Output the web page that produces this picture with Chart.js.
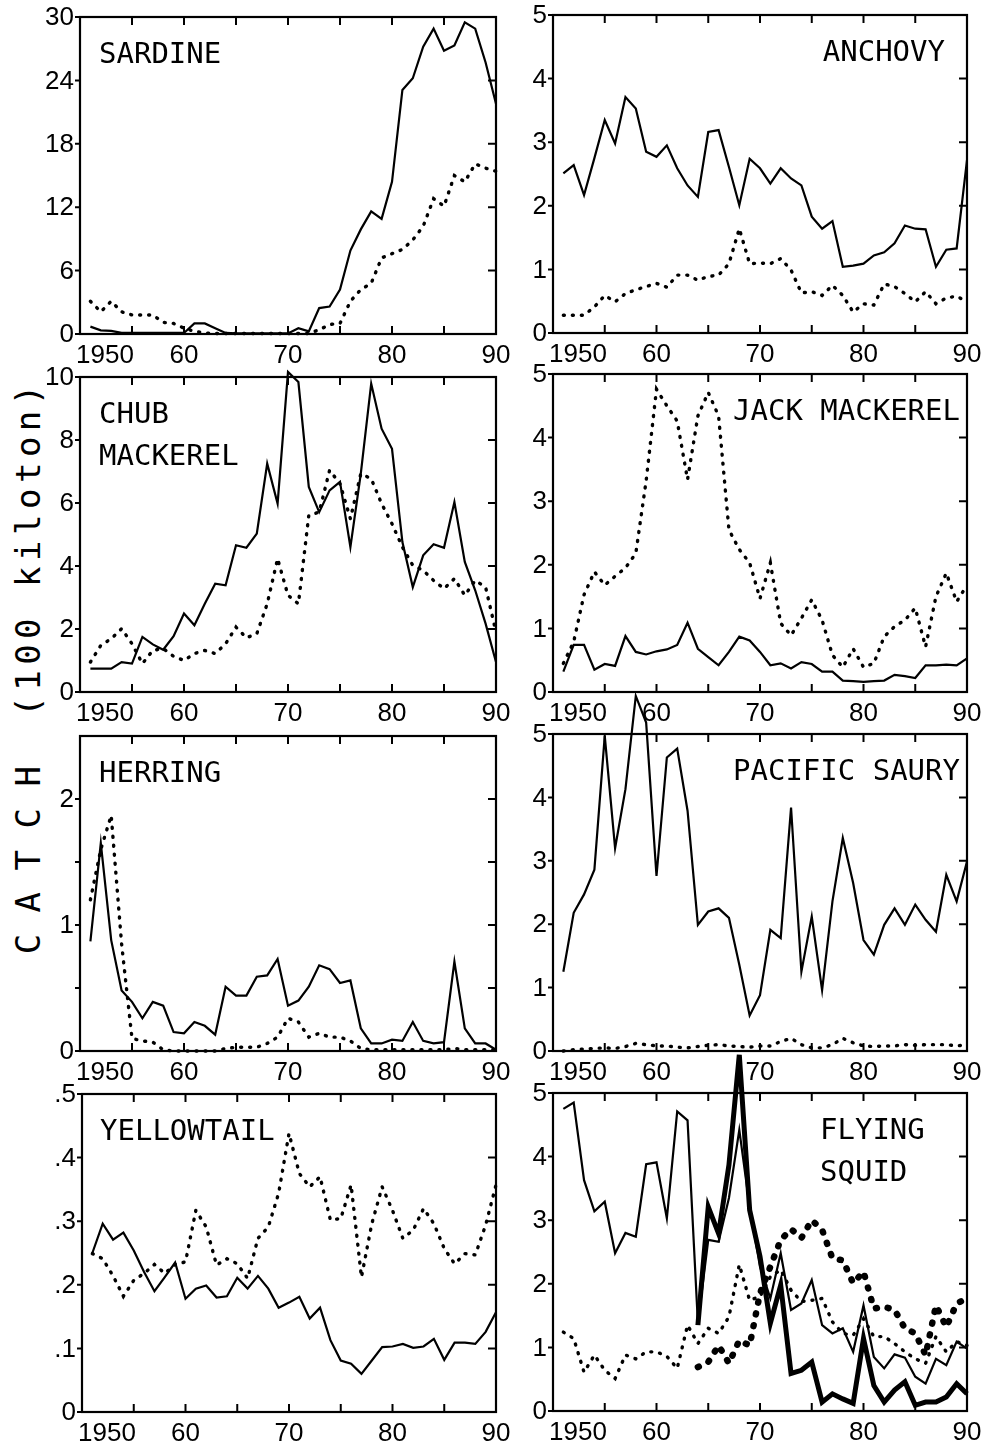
<!DOCTYPE html>
<html>
<head>
<meta charset="utf-8">
<title>Catch of pelagic species, 1951-1990</title>
<script src="https://cdn.jsdelivr.net/npm/chart.js@4.4.0/dist/chart.umd.min.js"></script>
<style>
    body { margin: 0; background: #fff; }
    #page { position: relative; width: 987px; height: 1443px; overflow: hidden; background: #fff; }
    #page canvas { position: absolute; }
    .ylabel {
        position: absolute;
        font-family: "DejaVu Sans Mono", monospace;
        font-size: 34px;
        color: #000;
        white-space: nowrap;
        transform: translate(-50%, -50%) rotate(-90deg);
    }
</style>
</head>
<body>
<div id="page">
    <div class="ylabel" style="left:28px; top:548px; letter-spacing:5.5px;">(100 kiloton)</div>
    <div class="ylabel" style="left:28px; top:860px; letter-spacing:0.5px;">C A T C H</div>
</div>
<script>
// Years on the x axis (one value per year)
const years = [1951, 1952, 1953, 1954, 1955, 1956, 1957, 1958, 1959, 1960,
    1961, 1962, 1963, 1964, 1965, 1966, 1967, 1968, 1969, 1970,
    1971, 1972, 1973, 1974, 1975, 1976, 1977, 1978, 1979, 1980,
    1981, 1982, 1983, 1984, 1985, 1986, 1987, 1988, 1989, 1990];
const xTicks = [1950, 1955, 1960, 1965, 1970, 1975, 1980, 1985, 1990];
const xTickLabels = { 1950: "1950", 1960: "60", 1970: "70", 1980: "80", 1990: "90" };

// Catch, 100 kiloton
const sardineSolid = [0.7, 0.35, 0.3, 0.1, 0.1, 0.1, 0.1, 0.1, 0.1, 0.1,
    1.0, 1.0, 0.55, 0.1, 0.05, 0.05, 0.05, 0.05, 0.05, 0.05,
    0.55, 0.25, 2.45, 2.6, 4.2, 7.9, 9.9, 11.6, 10.9, 14.4,
    23.1, 24.2, 27.2, 28.9, 26.8, 27.3, 29.5, 28.9, 25.7, 21.8];
const sardineDotted = [3.1, 2.1, 3.1, 2.1, 1.8, 1.8, 1.8, 1.1, 1.0, 0.55,
    0.25, 0.1, 0.05, 0.05, 0.05, 0.05, 0.05, 0.05, 0.05, 0.05,
    0.05, 0.05, 0.4, 0.9, 1.0, 3.1, 4.2, 4.8, 7.2, 7.6,
    8.0, 8.9, 10.2, 12.8, 12.1, 15.0, 14.4, 16.1, 15.7, 15.4];

const anchovySolid = [2.51, 2.64, 2.17, 2.75, 3.35, 2.98, 3.71, 3.53, 2.85, 2.77,
    2.95, 2.59, 2.32, 2.14, 3.16, 3.19, 2.61, 2.01, 2.74, 2.59,
    2.35, 2.59, 2.43, 2.32, 1.83, 1.64, 1.76, 1.04, 1.06, 1.09,
    1.22, 1.27, 1.41, 1.69, 1.64, 1.63, 1.04, 1.31, 1.33, 2.72];
const anchovyDotted = [0.28, 0.28, 0.28, 0.41, 0.59, 0.49, 0.62, 0.68, 0.73, 0.78,
    0.72, 0.91, 0.91, 0.83, 0.89, 0.91, 1.09, 1.64, 1.09, 1.10,
    1.09, 1.17, 0.99, 0.63, 0.65, 0.59, 0.75, 0.59, 0.33, 0.46,
    0.44, 0.77, 0.73, 0.62, 0.49, 0.65, 0.46, 0.55, 0.58, 0.49];

const chubSolid = [0.74, 0.74, 0.74, 0.95, 0.9, 1.75, 1.51, 1.34, 1.77, 2.49,
    2.12, 2.8, 3.44, 3.39, 4.66, 4.58, 5.03, 7.25, 5.98, 10.16,
    9.84, 6.51, 5.71, 6.4, 6.67, 4.6, 6.93, 9.79, 8.36, 7.72,
    4.76, 3.33, 4.34, 4.69, 4.58, 6.03, 4.13, 3.23, 2.17, 0.95];
const chubDotted = [0.95, 1.48, 1.69, 2.01, 1.53, 0.9, 1.32, 1.38, 1.13, 1.0,
    1.22, 1.32, 1.22, 1.53, 2.06, 1.72, 1.85, 2.8, 4.23, 3.07,
    2.8, 5.61, 5.71, 7.04, 6.61, 5.5, 6.93, 6.77, 5.98, 5.34,
    4.6, 4.02, 3.86, 3.54, 3.28, 3.6, 3.07, 3.54, 3.33, 1.9];

const jackSolid = [0.32, 0.74, 0.74, 0.35, 0.44, 0.41, 0.88, 0.63, 0.59, 0.64,
    0.67, 0.74, 1.09, 0.68, 0.55, 0.42, 0.63, 0.87, 0.81, 0.63,
    0.42, 0.45, 0.37, 0.47, 0.44, 0.32, 0.32, 0.18, 0.17, 0.16,
    0.17, 0.18, 0.27, 0.25, 0.22, 0.42, 0.42, 0.43, 0.42, 0.53];
const jackDotted = [0.45, 0.79, 1.53, 1.89, 1.68, 1.82, 1.95, 2.18, 3.32, 4.76,
    4.5, 4.26, 3.34, 4.34, 4.71, 4.34, 2.55, 2.24, 2.03, 1.47,
    2.03, 1.08, 0.89, 1.16, 1.45, 1.13, 0.58, 0.39, 0.68, 0.39,
    0.45, 0.87, 1.03, 1.13, 1.32, 0.71, 1.5, 1.87, 1.42, 1.68];

const herringSolid = [0.87, 1.65, 0.88, 0.48, 0.39, 0.26, 0.39, 0.36, 0.15, 0.14,
    0.23, 0.2, 0.13, 0.51, 0.44, 0.44, 0.59, 0.6, 0.73, 0.36,
    0.4, 0.51, 0.68, 0.65, 0.54, 0.56, 0.18, 0.06, 0.06, 0.09,
    0.08, 0.23, 0.08, 0.06, 0.07, 0.71, 0.18, 0.06, 0.06, 0.01];
const herringDotted = [1.2, 1.6, 1.87, 0.85, 0.1, 0.08, 0.07, 0.01, 0.0, 0.0,
    0.0, 0.0, 0.0, 0.02, 0.03, 0.03, 0.03, 0.06, 0.11, 0.26,
    0.23, 0.11, 0.14, 0.11, 0.11, 0.08, 0.02, 0.01, 0.01, 0.01,
    0.01, 0.01, 0.01, 0.01, 0.01, 0.02, 0.01, 0.01, 0.01, 0.01];

const saurySolid = [1.25, 2.18, 2.47, 2.86, 4.97, 3.2, 4.13, 5.6, 5.18, 2.76,
    4.63, 4.77, 3.79, 1.99, 2.2, 2.25, 2.1, 1.36, 0.56, 0.88,
    1.91, 1.78, 3.84, 1.25, 2.12, 0.96, 2.36, 3.36, 2.65, 1.75,
    1.52, 1.99, 2.25, 1.99, 2.31, 2.07, 1.88, 2.78, 2.36, 2.99];
const sauryDotted = [0.0, 0.02, 0.03, 0.04, 0.05, 0.04, 0.07, 0.12, 0.1, 0.08,
    0.08, 0.06, 0.05, 0.07, 0.09, 0.1, 0.08, 0.07, 0.06, 0.08,
    0.08, 0.15, 0.2, 0.1, 0.05, 0.05, 0.1, 0.2, 0.13, 0.08,
    0.07, 0.08, 0.08, 0.1, 0.09, 0.1, 0.1, 0.1, 0.08, 0.1];

const yellowtailSolid = [0.25, 0.296, 0.271, 0.282, 0.254, 0.22, 0.19, 0.212, 0.235, 0.178,
    0.194, 0.199, 0.18, 0.182, 0.211, 0.194, 0.214, 0.194, 0.164, 0.172,
    0.181, 0.147, 0.164, 0.113, 0.081, 0.076, 0.06, 0.081, 0.102, 0.103,
    0.107, 0.101, 0.103, 0.115, 0.082, 0.109, 0.109, 0.107, 0.126, 0.157];
const yellowtailDotted = [0.249, 0.241, 0.214, 0.182, 0.207, 0.218, 0.232, 0.218, 0.232, 0.236,
    0.317, 0.291, 0.231, 0.241, 0.233, 0.21, 0.273, 0.291, 0.344, 0.438,
    0.375, 0.354, 0.37, 0.302, 0.304, 0.357, 0.212, 0.296, 0.354, 0.317,
    0.273, 0.286, 0.32, 0.296, 0.257, 0.233, 0.249, 0.247, 0.294, 0.357];

const squidSolid = [4.75, 4.85, 3.63, 3.14, 3.29, 2.48, 2.8, 2.74, 3.88, 3.91,
    3.03, 4.71, 4.57, 1.38, 2.69, 2.66, 3.35, 4.42, 3.21, 2.27,
    1.77, 2.48, 1.59, 1.69, 2.06, 1.35, 1.22, 1.3, 0.93, 1.66,
    0.85, 0.67, 0.89, 0.84, 0.54, 0.43, 0.82, 0.72, 1.09, 0.98];
const squidDotted = [1.24, 1.14, 0.61, 0.88, 0.64, 0.51, 0.88, 0.82, 0.93, 0.93,
    0.86, 0.67, 1.35, 1.06, 1.3, 1.22, 1.48, 2.3, 1.74, 1.8,
    2.11, 2.22, 1.9, 1.72, 1.74, 1.77, 1.4, 1.22, 1.19, 1.45,
    1.17, 1.17, 1.06, 0.93, 0.82, 0.75, 1.17, 0.93, 1.09, 1.03];
const squidThickSolid = [null, null, null, null, null, null, null, null, null, null,
    null, null, null, 1.35, 3.21, 2.79, 3.87, 5.6, 3.16, 2.43,
    1.38, 1.98, 0.59, 0.64, 0.77, 0.14, 0.27, 0.19, 0.12, 1.14,
    0.4, 0.14, 0.33, 0.46, 0.09, 0.14, 0.14, 0.22, 0.43, 0.27];
const squidThickDotted = [null, null, null, null, null, null, null, null, null, null,
    null, null, null, 0.69, 0.77, 1.03, 0.75, 1.11, 1.03, 1.85,
    2.27, 2.69, 2.86, 2.72, 3.0, 2.85, 2.4, 2.37, 2.01, 2.19,
    1.61, 1.64, 1.59, 1.3, 1.22, 0.88, 1.66, 1.32, 1.69, 1.77];

// Y axis ticks and labels
const sardineTicks = [0, 6, 12, 18, 24, 30];
const fiveTicks = [0, 1, 2, 3, 4, 5];
const chubTicks = [0, 2, 4, 6, 8, 10];
const herringTicks = [0, 0.5, 1, 1.5, 2];
const herringLabels = ["0", "", "1", "", "2"];
const yellowtailTicks = [0, 0.1, 0.2, 0.3, 0.4, 0.5];
const yellowtailLabels = ["0", ".1", ".2", ".3", ".4", ".5"];

// Line looks
const styles = {
    solid: { borderWidth: 2.2, borderDash: [] },
    dotted: { borderWidth: 3.4, borderDash: [1, 8] },
    thickSolid: { borderWidth: 5, borderDash: [] },
    thickDotted: { borderWidth: 6.5, borderDash: [1, 11] }
};

// Frame, inward ticks, tick labels and panel name
const panelFrame = {
    id: 'panelFrame',
    afterDraw(chart, args, opts) {
        const { ctx, chartArea: a, scales: { x, y } } = chart;
        ctx.save();
        ctx.strokeStyle = '#000';
        ctx.fillStyle = '#000';
        ctx.lineWidth = 2.2;
        ctx.strokeRect(a.left, a.top, a.right - a.left, a.bottom - a.top);

        ctx.lineWidth = 2;
        ctx.beginPath();
        xTicks.forEach(v => {
            const px = x.getPixelForValue(v);
            ctx.moveTo(px, a.bottom); ctx.lineTo(px, a.bottom - 8);
            ctx.moveTo(px, a.top); ctx.lineTo(px, a.top + 8);
        });
        opts.yTicks.forEach(v => {
            const py = y.getPixelForValue(v);
            ctx.moveTo(a.left - 5, py); ctx.lineTo(a.left, py);
            ctx.moveTo(a.right, py); ctx.lineTo(a.right - 8, py);
        });
        ctx.stroke();

        ctx.font = '26px "Liberation Sans", Arial, sans-serif';
        ctx.textBaseline = 'middle';
        ctx.textAlign = 'right';
        opts.yTicks.forEach((v, i) => {
            const text = opts.yLabels ? opts.yLabels[i] : String(v);
            ctx.fillText(text, a.left - 6, y.getPixelForValue(v) + 1);
        });

        ctx.textBaseline = 'alphabetic';
        Object.keys(xTickLabels).forEach(k => {
            const v = Number(k);
            const px = x.getPixelForValue(v);
            if (v === 1950) {
                ctx.textAlign = 'left';
                ctx.fillText(xTickLabels[k], px - 4, a.bottom + 29);
            } else {
                ctx.textAlign = 'center';
                ctx.fillText(xTickLabels[k], px, a.bottom + 29);
            }
        });

        ctx.font = '29px "DejaVu Sans Mono", monospace';
        ctx.textAlign = opts.titleAlign;
        opts.title.forEach((line, i) => {
            ctx.fillText(line, a.left + opts.titleX, a.top + 46 + i * 42);
        });
        ctx.restore();
    }
};

// One entry per panel: box is left, top, right, bottom on the page
const panels = [
    { title: ["SARDINE"], titleX: 19, titleAlign: 'left', box: [80, 17, 496, 334], yMax: 30, yTicks: sardineTicks,
      series: [[sardineSolid, 'solid'], [sardineDotted, 'dotted']] },
    { title: ["ANCHOVY"], titleX: 392, titleAlign: 'right', box: [553, 15, 967, 333], yMax: 5, yTicks: fiveTicks,
      series: [[anchovySolid, 'solid'], [anchovyDotted, 'dotted']] },
    { title: ["CHUB", "MACKEREL"], titleX: 19, titleAlign: 'left', box: [80, 377, 496, 692], yMax: 10, yTicks: chubTicks,
      series: [[chubSolid, 'solid'], [chubDotted, 'dotted']] },
    { title: ["JACK MACKEREL"], titleX: 407, titleAlign: 'right', box: [553, 374, 967, 692], yMax: 5, yTicks: fiveTicks,
      series: [[jackSolid, 'solid'], [jackDotted, 'dotted']] },
    { title: ["HERRING"], titleX: 19, titleAlign: 'left', box: [80, 736, 496, 1051], yMax: 2.5, yTicks: herringTicks, yLabels: herringLabels,
      series: [[herringSolid, 'solid'], [herringDotted, 'dotted']] },
    { title: ["PACIFIC SAURY"], titleX: 407, titleAlign: 'right', box: [553, 734, 967, 1051], yMax: 5, yTicks: fiveTicks,
      series: [[saurySolid, 'solid'], [sauryDotted, 'dotted']] },
    { title: ["YELLOWTAIL"], titleX: 18, titleAlign: 'left', box: [82, 1094, 496, 1412], yMax: 0.5, yTicks: yellowtailTicks, yLabels: yellowtailLabels,
      series: [[yellowtailSolid, 'solid'], [yellowtailDotted, 'dotted']] },
    { title: ["FLYING", "SQUID"], titleX: 267, titleAlign: 'left', box: [553, 1093, 967, 1411], yMax: 5, yTicks: fiveTicks,
      series: [[squidSolid, 'solid'], [squidDotted, 'dotted'], [squidThickSolid, 'thickSolid'], [squidThickDotted, 'thickDotted']] }
];

const page = document.getElementById('page');
const pad = { left: 80, top: 50, right: 20, bottom: 50 };

panels.forEach(p => {
    const [l, t, r, b] = p.box;
    const canvas = document.createElement('canvas');
    canvas.width = (r - l) + pad.left + pad.right;
    canvas.height = (b - t) + pad.top + pad.bottom;
    canvas.style.left = (l - pad.left) + 'px';
    canvas.style.top = (t - pad.top) + 'px';
    page.appendChild(canvas);

    const datasets = p.series.map(([values, look]) => ({
        data: years.map((yr, i) => ({ x: yr, y: values[i] })),
        borderColor: '#000',
        borderWidth: styles[look].borderWidth,
        borderDash: styles[look].borderDash,
        borderCapStyle: look.includes('otted') ? 'round' : 'butt',
        borderJoinStyle: 'miter',
        pointRadius: 0,
        tension: 0,
        fill: false,
        clip: false,
        spanGaps: false
    }));

    new Chart(canvas.getContext('2d'), {
        type: 'line',
        data: { datasets },
        plugins: [panelFrame],
        options: {
            responsive: false,
            animation: false,
            devicePixelRatio: 1,
            events: [],
            layout: { padding: pad },
            scales: {
                x: { type: 'linear', min: 1950, max: 1990, display: false },
                y: { type: 'linear', min: 0, max: p.yMax, display: false }
            },
            plugins: {
                legend: { display: false },
                tooltip: { enabled: false },
                panelFrame: { yTicks: p.yTicks, yLabels: p.yLabels, title: p.title, titleX: p.titleX, titleAlign: p.titleAlign }
            }
        }
    });
});
</script>
</body>
</html>
